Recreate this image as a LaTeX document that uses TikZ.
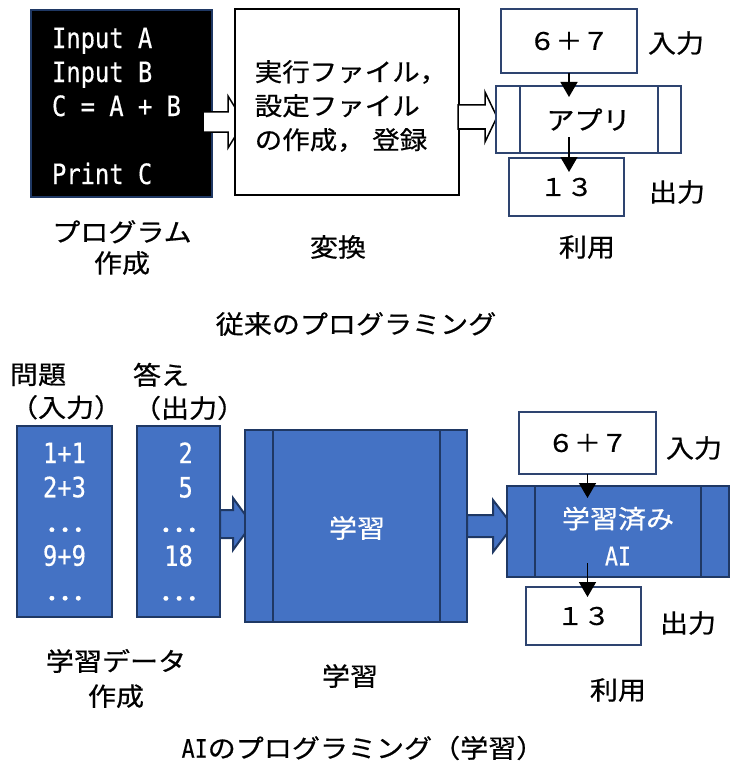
\documentclass[tikz,border=0pt]{standalone}
\usepackage{fontspec}
\setmainfont[FakeStretch=1.1,FakeBold=0.6]{Noto Sans CJK JP}
\newfontfamily\hw[FakeStretch=0.85,FakeBold=0.4]{DejaVu Sans Mono}
\usetikzlibrary{calc,arrows.meta}
\definecolor{accblue}{HTML}{4472C4}
\definecolor{navy}{HTML}{1F3864}
\definecolor{boxedge}{HTML}{2E4470}
\newcommand{\lblfont}{\fontsize{25.5}{31}\selectfont}
\newcommand{\boxfont}{\fontsize{24.3}{34}\selectfont}
\newcommand{\bigdots}{{\rmfamily\fontsize{32}{34.25}\selectfont …}}
\begin{document}
\begin{tikzpicture}[x=1pt,y=-1pt,
  every node/.style={inner sep=0pt,outer sep=0pt},
  font=\lblfont,
  blk/.style={fill=black,draw=navy,line width=1.5pt},
  wbox/.style={fill=white,draw=black,line width=1.5pt},
  ebox/.style={fill=white,draw=boxedge,line width=1.5pt,font=\boxfont},
  bbox/.style={fill=accblue,draw=navy,line width=2pt,text=white},
  proc/.style 2 args={path picture={
    \draw[#2,line width=2pt]
      ([xshift=#1]path picture bounding box.north west) -- ([xshift=#1]path picture bounding box.south west)
      ([xshift=-#1]path picture bounding box.north east) -- ([xshift=-#1]path picture bounding box.south east);}},
  warrow/.style={fill=white,draw=black,line width=1.5pt},
  barrow/.style={fill=accblue,draw=navy,line width=2pt},
  tarrow/.style={-{Triangle[length=15pt,width=17pt]},line width=1.5pt}
]
\useasboundingbox (0,0) rectangle (739,773);

% ---------- traditional programming ----------
\node[blk,minimum width=181pt,minimum height=187pt] (prog) at (121.5,103.5) {};
\node[anchor=west,text=white,align=left,font=\hw\fontsize{28}{34}\selectfont] (code) at (52,106)
  {Input A\\Input B\\C = A + B\\\mbox{}\\Print C};

\draw[warrow] ([xshift=-9pt,yshift=-8.5pt]prog.east) -- ++(25,0) -- ++(0,-16) -- ++(16,26)
  -- ++(-16,26) -- ++(0,-16) -- ++(-25,0) -- cycle;

\node[wbox,minimum width=224pt,minimum height=186pt] (conv) at (347,102) {};
\node[align=left,font=\fontsize{25}{34}\selectfont] (convtxt) at (351,106)
  {実行ファイル，\\設定ファイル\\の作成，\hspace{0.3em}登録};

\draw[warrow] ([xshift=-1pt,yshift=-3pt]conv.east) -- ++(27,0) -- ++(0,-13) -- ++(12,25)
  -- ++(-12,25) -- ++(0,-13) -- ++(-27,0) -- cycle;

\node[ebox,proc={23.5pt}{boxedge},minimum width=185pt,minimum height=67pt,font=\lblfont] (app) at (588.5,119.5) {アプリ};
\node[ebox,minimum width=136pt,minimum height=64pt] (in1) at (569,41) {６＋７};
\node[ebox,minimum width=115pt,minimum height=58pt] (out1) at (566.5,187) {１３};

\draw[tarrow] (in1.south) -- ([yshift=-11pt]in1.south |- app.north);
\draw[tarrow] ([yshift=16pt]in1.south |- app.south) -- ([yshift=-14pt]in1.south |- out1.north);

\node (inlbl1) at (676,43) {入力};
\node (outlbl1) at (677,192) {出力};
\node[align=center] (lprog) at (122,247.5) {プログラム\\作成};
\node (lconv) at (338,247) {変換};
\node (luse1) at (587,247) {利用};
\node (title1) at (356,324) {従来のプログラミング};

% ---------- AI programming ----------
\node[anchor=west,align=left,font=\fontsize{25.5}{33}\selectfont] (lq) at (10,391.5) {問題\\（入力）};
\node[anchor=west,align=left,font=\fontsize{25.5}{33}\selectfont] (la) at (133,391.5) {答え\\（出力）};

\node[bbox,minimum width=95pt,minimum height=191pt,align=center,font=\hw\fontsize{28}{34.25}\selectfont] (ques) at (64.5,521.5)
  {1+1\\2+3\\\bigdots\\9+9\\\bigdots};
\node[bbox,minimum width=83pt,minimum height=191pt,align=center,font=\hw\fontsize{28}{34.25}\selectfont] (ans) at (178.5,521.5)
  {\hphantom{1}2\\\hphantom{1}5\\\bigdots\\18\\\bigdots};

\draw[barrow] ([yshift=11.5pt]ans.east) -- ++(13,0) -- ++(0,-12) -- ++(19,26)
  -- ++(-19,26) -- ++(0,-12) -- ++(-13,0) -- cycle;

\node[bbox,proc={27.5pt}{navy},minimum width=222pt,minimum height=192pt] (learn) at (356,526) {};
\node[text=white] (learntxt) at (357,528) {学習};

\draw[barrow] ([yshift=11pt]learn.east) -- ++(26,0) -- ++(0,-15) -- ++(20,26)
  -- ++(-20,26) -- ++(0,-15) -- ++(-26,0) -- cycle;

\node[bbox,proc={28pt}{navy},minimum width=222pt,minimum height=91pt] (ai) at (618,531.5) {};
\node[text=white,align=center,font=\fontsize{25.5}{37}\selectfont] (aitxt) at (618,536) {学習済み\\{\hw AI}};

\node[ebox,minimum width=137pt,minimum height=62pt] (in2) at (587.5,443) {６＋７};
\node[ebox,minimum width=115pt,minimum height=58pt] (out2) at (583.5,616) {１３};

\draw[tarrow] (in2.south) -- ([yshift=-12pt]in2.south |- ai.north);
\draw[tarrow] ([yshift=14pt]in2.south |- ai.south) -- ([yshift=-10pt]in2.south |- out2.north);

\node (inlbl2) at (694,448) {入力};
\node (outlbl2) at (688,623) {出力};
\node[align=center,font=\fontsize{25.5}{35}\selectfont] (ldata) at (116,678.5) {学習データ\\作成};
\node (llearn) at (350,676) {学習};
\node (luse2) at (618,690) {利用};
\node (title2) at (363,748) {{\hw AI}のプログラミング（学習）};
\end{tikzpicture}
\end{document}
